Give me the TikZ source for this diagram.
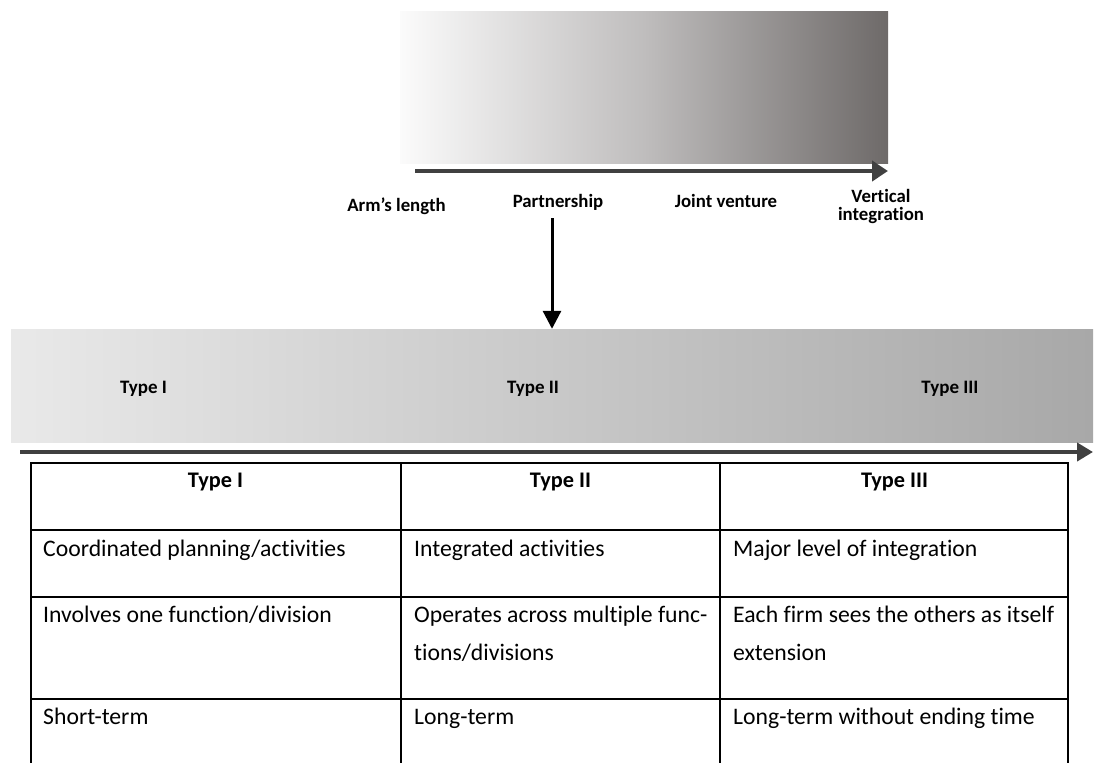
\documentclass[tikz,border=0pt]{standalone}
\usepackage{fontspec}
\setmainfont{Carlito}[Ligatures={NoCommon}]
\usetikzlibrary{arrows.meta}
\definecolor{axisgray}{HTML}{404040}
\definecolor{topleft}{HTML}{FBFBFB}
\definecolor{topmid}{HTML}{BFBDBD}
\definecolor{topright}{HTML}{6E6A69}
\definecolor{bandleft}{HTML}{E9E9E9}
\definecolor{bandright}{HTML}{A8A8A8}
\tikzset{
  toplabel/.style={font=\fontsize{18.8}{20}\selectfont\bfseries, align=center, inner sep=0pt, anchor=base},
  bandlabel/.style={font=\fontsize{19}{22}\selectfont\bfseries, inner sep=0pt, anchor=base},
  headcell/.style={font=\fontsize{22.3}{26}\selectfont\bfseries, inner sep=0pt, anchor=base},
  cell/.style={font=\fontsize{23.7}{28.4}\selectfont, anchor=base west, align=left, inner sep=0pt},
  gridline/.style={line width=1.8pt, black},
  axisarrow/.style={line width=4pt, axisgray, -{Triangle[length=16pt,width=20pt]}},
}
\begin{document}
\begin{tikzpicture}[x=1pt,y=-1pt]
\useasboundingbox (0,0) rectangle (1095,763);

% top scale of relationship forms
\node (scale) [inner sep=0pt, minimum width=488pt, minimum height=152pt,
  left color=topleft, right color=topright, middle color=topmid, draw=none]
  at (644,87) {};
\coordinate (s0) at (415,171);
\coordinate (s1) at (888,171);
\draw[axisarrow] (s0) -- (s1);

% multi-line labels are placed by the baseline of their last line
\node[toplabel] (arms) at (396.5,211) {Arm’s length};
\node[toplabel] (partner) at (558,207) {Partnership};
\node[toplabel] (joint) at (726,207) {Joint venture};
\node[toplabel] (vertical) at (881,220) {Vertical\\[-2.6pt]integration};

% band of partnership types
\node (band) [inner sep=0pt, minimum width=1082pt, minimum height=113pt,
  left color=bandleft, right color=bandright, draw=none]
  at (552,385.5) {};
\node[bandlabel] (b1) at (143.5,393) {Type I};
\node[bandlabel] (b2) at (533,393) {Type II};
\node[bandlabel] (b3) at (950,393) {Type III};

\coordinate (pa) at (552,218);
\draw[line width=3pt, black, -{Triangle[length=18pt,width=18pt]}] (pa) -- (band.north -| pa);

\coordinate (t0) at (20,452);
\coordinate (t1) at (1093,452);
\draw[line width=4pt, axisgray, -{Triangle[length=16pt,width=18pt]}] (t0) -- (t1);

% table
\draw[gridline] (31,763) -- (31,463) -- (1068,463) -- (1068,763);
\draw[gridline] (401,463) -- (401,763);
\draw[gridline] (720,463) -- (720,763);
\draw[gridline] (31,530) -- (1069,530);
\draw[gridline] (31,597) -- (1069,597);
\draw[gridline] (31,699) -- (1069,699);

\node[headcell] (h1) at (215.5,487) {Type I};
\node[headcell] (h2) at (560.5,487) {Type II};
\node[headcell] (h3) at (894.5,487) {Type III};

\node[cell] (c11) at (43,556) {Coordinated planning/activities};
\node[cell] (c12) at (414,556) {Integrated activities};
\node[cell] (c13) at (733,556) {Major level of integration};
\node[cell] (c21) at (43,622) {Involves one function/division};
\node[cell] (c22) at (414,660) {Operates across multiple func-\\[9.6pt]tions/divisions};
\node[cell] (c23) at (733,660) {Each firm sees the others as itself\\[9.6pt]extension};
\node[cell] (c31) at (43,724) {Short-term};
\node[cell] (c32) at (414,724) {Long-term};
\node[cell] (c33) at (733,724) {Long-term without ending time};
\end{tikzpicture}
\end{document}
